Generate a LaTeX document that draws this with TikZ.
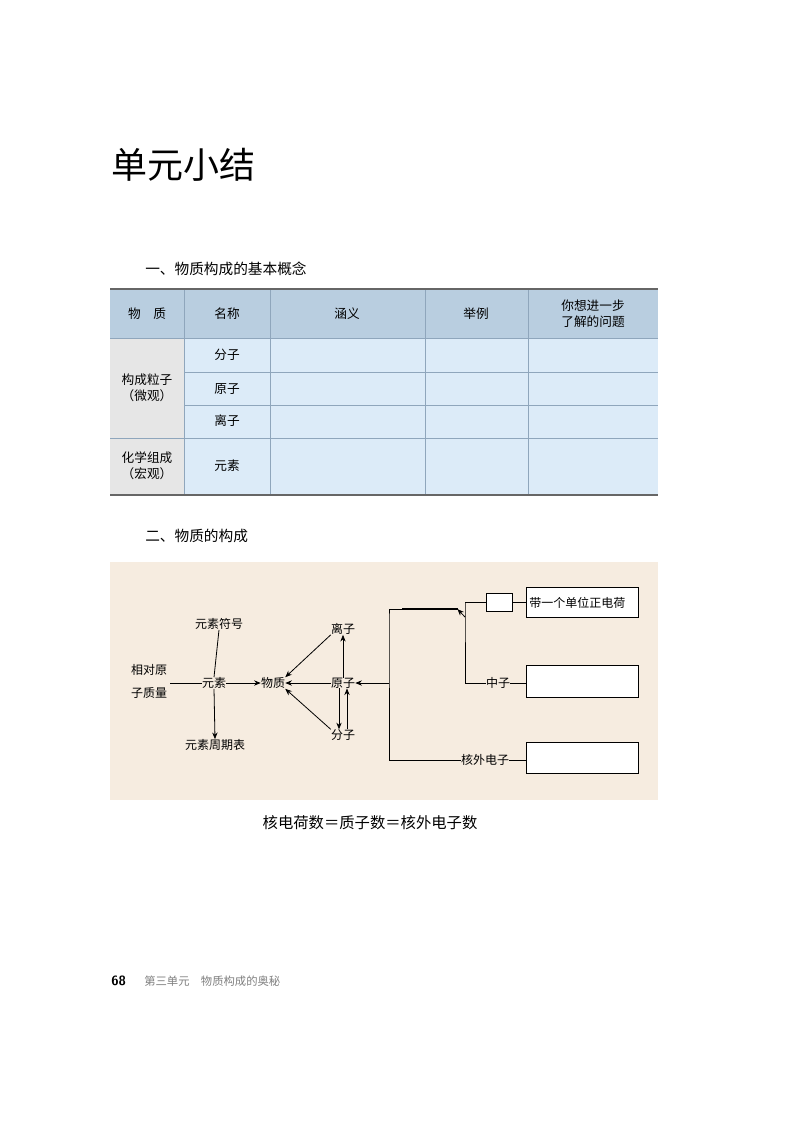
\documentclass[tikz,border=0pt]{standalone}
\usepackage{fontspec}
\setmainfont{Noto Sans CJK SC}
\usetikzlibrary{arrows.meta}
\definecolor{hdr}{HTML}{B9CEE0}
\definecolor{lgray}{HTML}{E6E6E6}
\definecolor{body}{HTML}{DCEBF8}
\definecolor{bg}{HTML}{F6ECE0}
\definecolor{grid}{HTML}{8FA6BC}
\tikzset{
  tt/.style={font=\fontsize{9.5}{12}\selectfont, inner sep=0pt, align=center},
  dt/.style={font=\fontsize{9}{11}\selectfont, inner sep=0pt},
  bx/.style={draw, fill=white, line width=0.6pt, inner sep=0pt},
  ar/.style={-{Stealth[length=5pt,width=4pt]}, line width=0.6pt},
  ln/.style={line width=0.6pt}
}
\begin{document}
\begin{tikzpicture}[x=0.75pt,y=-0.75pt]
\useasboundingbox (0,0) rectangle (800,1131);
\fill[white] (0,0) rectangle (800,1131);
\node[anchor=west, inner sep=0pt, font=\fontsize{27}{30}\selectfont] (title) at (111,165) {单元小结};
\node[anchor=west, inner sep=0pt, font=\fontsize{11}{13}\selectfont] (h1) at (145,269) {一、物质构成的基本概念};
% table
\fill[hdr] (110,289) rectangle (658,338);
\fill[lgray] (110,338) rectangle (184,495);
\fill[body] (184,338) rectangle (658,495);
\foreach \x in {184,270,425,528} \draw[grid, line width=0.6pt] (\x,289) -- (\x,495);
\foreach \y in {338,438} \draw[grid, line width=0.6pt] (110,\y) -- (658,\y);
\foreach \y in {372,405} \draw[grid, line width=0.6pt] (184,\y) -- (658,\y);
\draw[gray!80!black, line width=1.2pt] (110,289) -- (658,289);
\draw[gray!80!black, line width=1.2pt] (110,495) -- (658,495);
\node[tt] (c1) at (147,314) {物\quad 质};
\node[tt] (c2) at (227,314) {名称};
\node[tt] (c3) at (347,314) {涵义};
\node[tt] (c4) at (476,314) {举例};
\node[tt] (c5) at (593,314) {你想进一步\\了解的问题};
\node[tt] (r1) at (147,388) {构成粒子\\（微观）};
\node[tt] (r2) at (147,466) {化学组成\\（宏观）};
\node[tt] (n1) at (227,355) {分子};
\node[tt] (n2) at (227,389) {原子};
\node[tt] (n3) at (227,421) {离子};
\node[tt] (n4) at (227,466) {元素};
\node[anchor=west, inner sep=0pt, font=\fontsize{11}{13}\selectfont] (h2) at (145,536) {二、物质的构成};
% diagram
\fill[bg] (110,562) rectangle (658,800);
\node[dt] (fh) at (219,624) {元素符号};
\node[dt] (xd1) at (149,670) {相对原};
\node[dt] (xd2) at (149,693) {子质量};
\node[dt] (ys) at (214,683) {元素};
\node[dt] (zq) at (215,745) {元素周期表};
\node[dt] (wz) at (273,683) {物质};
\node[dt] (lz) at (343,629) {离子};
\node[dt] (yz) at (343,683) {原子};
\node[dt] (fz) at (343,735) {分子};
\node[bx, minimum width=41pt*0.75/0.75, anchor=north west] (b1) at (402,608) {};
\node[bx, anchor=north west, minimum width=19.5pt, minimum height=13.5pt] (b2) at (486,593) {};
\node[bx, anchor=north west, minimum width=84pt, minimum height=22.5pt] (b3) at (526,587) {};
\node[bx, anchor=north west, minimum width=84pt, minimum height=24pt] (b4) at (526,665) {};
\node[bx, anchor=north west, minimum width=84pt, minimum height=23.5pt] (b5) at (526,742) {};
\node[dt, anchor=west] (dz) at (529,603) {带一个单位正电荷};
\node[dt] (zz) at (498,683) {中子};
\node[dt] (hw) at (485,760) {核外电子};
\coordinate (v1) at (389,617);
\coordinate (v2) at (389,683);
\coordinate (v3) at (389,760);
\coordinate (u1) at (465,602);
\coordinate (u2) at (465,617);
\coordinate (u3) at (465,683);
% connectors
\draw[ln] (fh.south) -- (ys.north);
\draw[ln] (170,683) coordinate (lx) -- (ys.west);
\draw[ar] (ys.south) -- (zq.north);
\draw[ar] (ys.east) -- (wz.west);
\draw[ar] (yz.west) -- (wz.east);
\draw[ar] (lz.south west) -- (wz.north east);
\draw[ar] (fz.north west) -- (wz.south east);
\draw[ar] (yz.north) -- (lz.south);
\draw[ar] ([xshift=-3pt]yz.south) -- ([xshift=-3pt]fz.north);
\draw[ar] ([xshift=3pt]fz.north) -- ([xshift=3pt]yz.south);
\draw[ln] (b1.west) -| (v1) -- (v3) -- (hw.west);
\draw[ar] (v2) -- (yz.east);
\draw[ln] (b2.west) -| (u1) -- (u3) -- (zz.west);
\draw[ar] (u2) -- (b1.east);
\draw[ln] (b2.east) -- (b2.east -| b3.west);
\draw[ln] (zz.east) -- (zz.east -| b4.west);
\draw[ln] (hw.east) -- (hw.east -| b5.west);
\node[inner sep=0pt, font=\fontsize{11.5}{13}\selectfont] (eq) at (370,823) {核电荷数＝质子数＝核外电子数};
\node[anchor=west, inner sep=0pt, font=\sffamily\bfseries\fontsize{10}{12}\selectfont] (pg) at (111,981) {68};
\node[anchor=west, inner sep=0pt, text=gray, font=\fontsize{8.5}{10}\selectfont] (ft) at (144,981) {第三单元\quad 物质构成的奥秘};
\end{tikzpicture}
\end{document}
